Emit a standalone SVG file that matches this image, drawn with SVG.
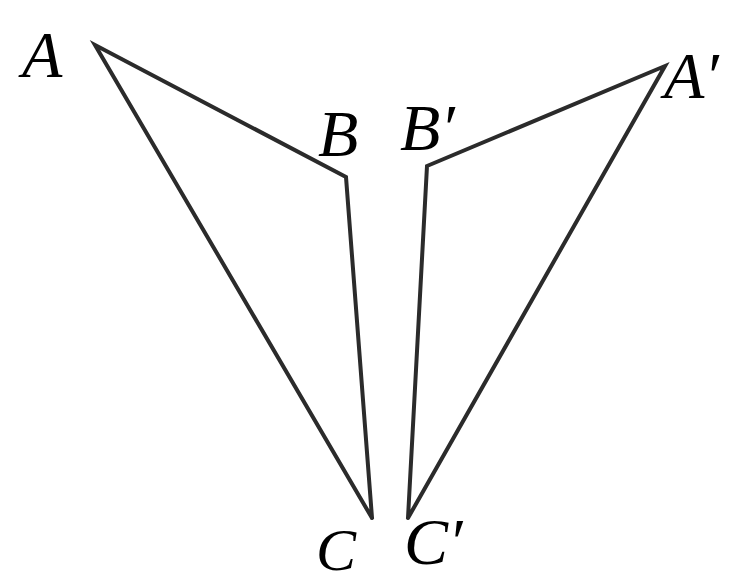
<svg xmlns="http://www.w3.org/2000/svg" width="735" height="581" viewBox="0 0 735 581">
<rect width="735" height="581" fill="#ffffff"/>
<g id="connectors" fill="none" stroke="#2b2b2b" stroke-width="4" stroke-linejoin="miter" stroke-linecap="round">
<polyline points="372,518 95,45 346,177 372,518"/>
<polyline points="408,518 427,166 665,66 408,518"/>
</g>
<g id="A"><text x="22" y="77" font-family="'Liberation Serif', 'Times New Roman', serif" font-style="italic" font-size="66" fill="#000">A</text></g>
<g id="B"><text x="318" y="156" font-family="'Liberation Serif', 'Times New Roman', serif" font-style="italic" font-size="66" fill="#000">B</text></g>
<g id="C"><text x="316" y="570" font-family="'Liberation Serif', 'Times New Roman', serif" font-style="italic" font-size="60" fill="#000">C</text></g>
<g id="A2"><text x="664" y="98" font-family="'Liberation Serif', 'Times New Roman', serif" font-style="italic" font-size="66" fill="#000">A′</text></g>
<g id="B2"><text x="400" y="150" font-family="'Liberation Serif', 'Times New Roman', serif" font-style="italic" font-size="66" fill="#000">B′</text></g>
<g id="C2"><text x="404" y="564" font-family="'Liberation Serif', 'Times New Roman', serif" font-style="italic" font-size="66" fill="#000">C′</text></g>
</svg>
